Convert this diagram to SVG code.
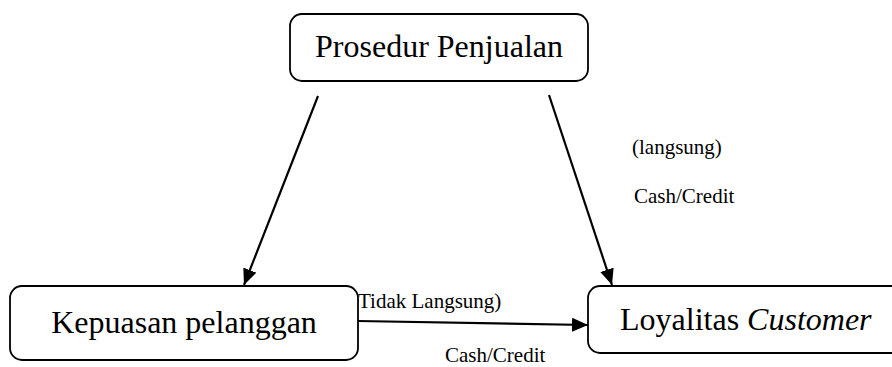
<svg xmlns="http://www.w3.org/2000/svg" width="892" height="367" viewBox="0 0 892 367">
<style>
.box{fill:#fff;stroke:#000;stroke-width:1.8}
.big{font-family:'Liberation Serif','DejaVu Serif',serif;font-size:32px;fill:#000}
.lbl{font-family:'Liberation Serif','DejaVu Serif',serif;font-size:21px;fill:#000}
.edge{stroke:#000;stroke-width:2.2;fill:none;marker-end:url(#ah)}
</style>
<defs>
<marker id="ah" markerUnits="userSpaceOnUse" markerWidth="18" markerHeight="14" refX="16" refY="7" orient="auto">
<path d="M0,0 L16,7 L0,14 Z" fill="#000"/>
</marker>
</defs>
<rect width="892" height="367" fill="#fff"/>
<g id="connectors">
<line class="edge" x1="318" y1="96" x2="244" y2="285"/>
<line class="edge" x1="549" y1="95" x2="612" y2="285"/>
<line class="edge" x1="358" y1="321" x2="588" y2="325"/>
<text class="lbl" x="632" y="154">(langsung)</text>
<text class="lbl" x="634" y="203">Cash/Credit</text>
<text class="lbl" x="358" y="308">Tidak Langsung)</text>
<text class="lbl" x="445" y="362">Cash/Credit</text>
</g>
<g id="node-prosedur">
<rect class="box" x="290" y="14" width="298" height="67" rx="12"/>
<text class="big" x="439" y="57" text-anchor="middle">Prosedur Penjualan</text>
</g>
<g id="node-kepuasan">
<rect class="box" x="10" y="286" width="348" height="74" rx="12"/>
<text class="big" x="184" y="333" text-anchor="middle">Kepuasan pelanggan</text>
</g>
<g id="node-loyalitas">
<rect class="box" x="588" y="286" width="330" height="67" rx="12"/>
<text class="big" x="620" y="330">Loyalitas <tspan font-style="italic">Customer</tspan></text>
</g>
</svg>
